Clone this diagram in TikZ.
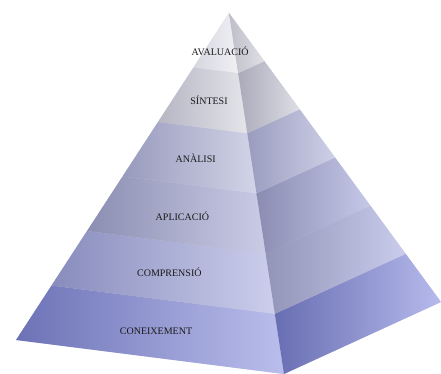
\documentclass[tikz,border=0pt]{standalone}
\usepackage{fontspec}
\setmainfont{Liberation Serif}
\usepackage{xcolor}
\usepackage{tikz}
% front face, dark side / light side
\definecolor{front0l}{RGB}{108,114,182}
\definecolor{front0r}{RGB}{186,190,236}
\definecolor{front1l}{RGB}{136,140,188}
\definecolor{front1r}{RGB}{204,206,236}
\definecolor{front2l}{RGB}{140,142,178}
\definecolor{front2r}{RGB}{202,204,230}
\definecolor{front3l}{RGB}{152,154,188}
\definecolor{front3r}{RGB}{210,212,232}
\definecolor{front4l}{RGB}{182,182,196}
\definecolor{front4r}{RGB}{228,228,234}
\definecolor{front5l}{RGB}{214,214,224}
\definecolor{front5r}{RGB}{240,240,244}
% right face, ridge side / edge side
\definecolor{side0l}{RGB}{104,110,178}
\definecolor{side0r}{RGB}{182,186,236}
\definecolor{side1l}{RGB}{146,148,184}
\definecolor{side1r}{RGB}{202,204,236}
\definecolor{side2l}{RGB}{138,140,178}
\definecolor{side2r}{RGB}{198,200,232}
\definecolor{side3l}{RGB}{154,156,190}
\definecolor{side3r}{RGB}{206,208,232}
\definecolor{side4l}{RGB}{170,170,186}
\definecolor{side4r}{RGB}{222,222,230}
\definecolor{side5l}{RGB}{190,190,200}
\definecolor{side5r}{RGB}{224,224,230}
\usetikzlibrary{calc}

\tikzset{levellabel/.style={font=\fontsize{10}{12}\selectfont, text=black!90, inner sep=0pt}}

\begin{document}
\begin{tikzpicture}[x=1pt,y=-1pt]
    \useasboundingbox (0,0) rectangle (441,374);
    % corners of the pyramid
    \coordinate (apex) at (229,13);
    \coordinate (left) at (16,340);
    \coordinate (front) at (284,374);
    \coordinate (right) at (441,302);

    % underlay, hides seams between bands
    \fill[front2r] (left) -- (front) -- (apex) -- cycle;
    \fill[side2r] (front) -- (right) -- (apex) -- cycle;

    % six bands on both faces
    \foreach \i in {0,...,5}{
        \pgfmathsetmacro{\a}{\i/6}
        \pgfmathsetmacro{\b}{(\i+1)/6}
        \shade[left color=front\i l, right color=front\i r]
            ($(left)!\a!(apex)$) -- ($(front)!\a!(apex)$) -- ($(front)!\b!(apex)$) -- ($(left)!\b!(apex)$) -- cycle;
        \shade[left color=side\i l, right color=side\i r]
            ($(front)!\a!(apex)$) -- ($(right)!\a!(apex)$) -- ($(right)!\b!(apex)$) -- ($(front)!\b!(apex)$) -- cycle;
    }

    % level names
    \foreach \i/\t/\name in {0/0.076/CONEIXEMENT, 1/0.245/COMPRENSIÓ, 2/0.41/APLICACIÓ,
                             3/0.578/ANÀLISI, 4/0.747/SÍNTESI, 5/0.888/AVALUACIÓ}{
        \node[levellabel] (lbl\i) at ($($(left)!\t!(apex)$)!0.5!($(front)!\t!(apex)$)$) {\name};
    }
\end{tikzpicture}
\end{document}
